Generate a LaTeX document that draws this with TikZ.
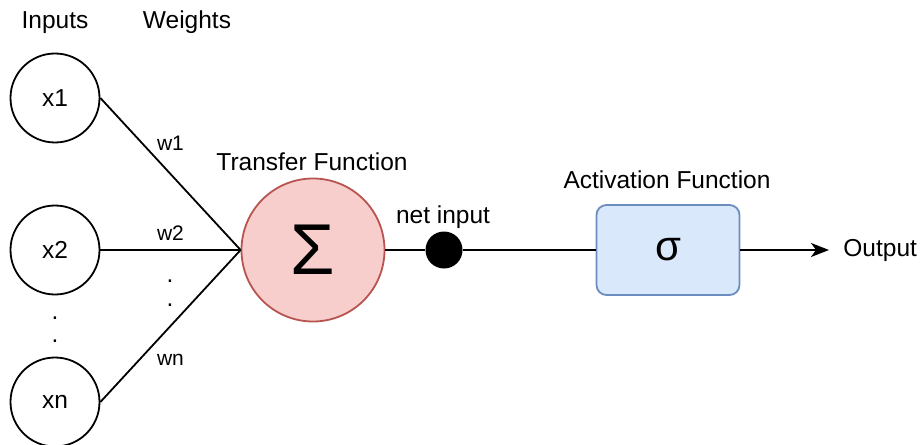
\documentclass[tikz,border=0pt]{standalone}
\usepackage{fontspec}
\setmainfont{Liberation Sans}
\usepackage{xcolor}
\usetikzlibrary{arrows.meta,positioning}
\definecolor{sumfill}{HTML}{F8CECC}
\definecolor{sumline}{HTML}{B85450}
\definecolor{actfill}{HTML}{DAE8FC}
\definecolor{actline}{HTML}{6C8EBF}

\begin{document}
\begin{tikzpicture}[x=0.5pt, y=-0.5pt, font=\fontsize{12.25}{14}\selectfont,
    inp/.style={circle, draw, line width=0.9pt, minimum size=44.5pt, inner sep=0pt},
    wire/.style={line width=0.9pt},
    wlbl/.style={font=\fontsize{10.5}{12}\selectfont, inner sep=0pt, anchor=base}]
    \useasboundingbox (0,0) rectangle (920,444);
    % column titles
    \node[anchor=base] (inputs) at (55,29) {Inputs};
    \node[anchor=base] (weights) at (187,29) {Weights};
    % input neurons
    \node[inp] (x1) at (55,98) {x1};
    \node[inp] (x2) at (55,250) {x2};
    \node[inp] (xn) at (55,402) {xn};
    \node[anchor=base] (vdot1) at (55,319) {.};
    \node[anchor=base] (vdot2) at (55,342) {.};
    % summation
    \node[circle, draw=sumline, fill=sumfill, line width=0.9pt, minimum size=71.5pt,
      inner sep=0pt, font=\fontsize{36}{38}\selectfont] (sum) at (313,250) {Σ};
    \node[anchor=base] (transfer) at (312,170) {Transfer Function};
    \draw[wire] (x1.east) -- node[wlbl, pos=0.5, yshift=12pt] (w1) {w1} (sum.west);
    \draw[wire] (x2.east) -- node[wlbl, pos=0.5, yshift=5pt] (w2) {w2} (sum.west);
    \draw[wire] (xn.east) -- node[wlbl, pos=0.5, yshift=-19.5pt] (wn) {wn} (sum.west);
    \node[anchor=base] (wdot1) at (170,282) {.};
    \node[anchor=base] (wdot2) at (170,306) {.};
    % net input and activation
    \node[circle, fill=black, minimum size=18.5pt, inner sep=0pt] (net) at (444,250) {};
    \node[anchor=base] (netlbl) at (443,223) {net input};
    \node[draw=actline, fill=actfill, rounded corners=5pt, line width=0.9pt,
      minimum width=71.5pt, minimum height=45pt, font=\fontsize{21}{24}\selectfont] (act) at (668,250) {σ};
    \node[anchor=base] (actlbl) at (667,188) {Activation Function};
    \node[anchor=west, inner sep=7pt] (out) at (829,250) {Output};
    \draw[wire] (sum.east) -- (net) -- (act.west);
    \draw[wire, -{Stealth[length=9pt, width=7pt, inset=2.5pt]}] (act.east) -- (out.west);
\end{tikzpicture}
\end{document}
